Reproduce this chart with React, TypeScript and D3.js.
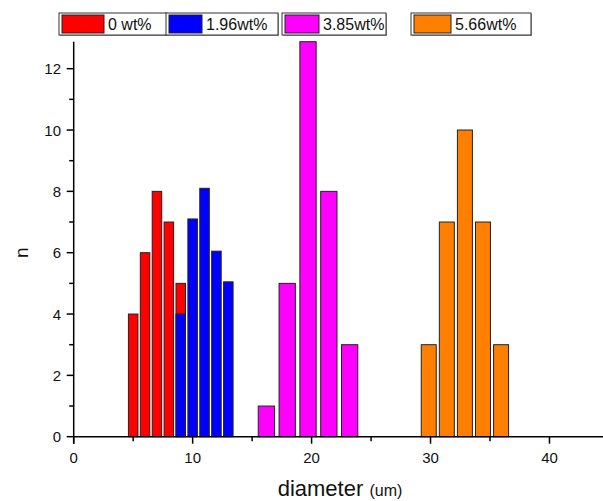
import React from "react";
import * as d3 from "d3";

// diameter bins (um) and counts for each loading
const d0 = [5, 6, 7, 8, 9];
const n0 = [4, 6, 8, 7, 5];
const d196 = [9, 10, 11, 12, 13];
const n196 = [4, 7.1, 8.1, 6.05, 5.05];
const d385 = [16.2, 17.95, 19.7, 21.45, 23.2];
const n385 = [1, 5, 13, 8, 3];
const d566 = [29.85, 31.37, 32.89, 34.41, 35.93];
const n566 = [3, 7, 10, 7, 3];

const seriesNames = ["0 wt%", "1.96wt%", "3.85wt%", "5.66wt%"];
const xTicks = [0, 10, 20, 30, 40];
const xMinor = [5, 15, 25, 35];
const yTicks = [0, 2, 4, 6, 8, 10, 12];
const yMinor = [1, 3, 5, 7, 9, 11];

const W = 603;
const H = 501;
const font = "Arial, 'Liberation Sans', sans-serif";

const series = [
  { name: seriesNames[0], xs: d0, ns: n0, color: "#ff0000", bw: 0.8 },
  { name: seriesNames[1], xs: d196, ns: n196, color: "#0000ff", bw: 0.8 },
  { name: seriesNames[2], xs: d385, ns: n385, color: "#ff00ff", bw: 1.37 },
  { name: seriesNames[3], xs: d566, ns: n566, color: "#ff8000", bw: 1.26 },
];

// legend boxes: [boxX, boxW, swatchW]
const legendLayout = [
  [59, 108, 42],
  [166, 112, 33],
  [282, 104, 34],
  [411, 120, 37],
];

export default function App() {
  const x = d3.scaleLinear().domain([0, 44.5]).range([73.7, 603]);
  const y = d3.scaleLinear().domain([0, 12.88]).range([436.7, 41.7]).clamp(true);

  return (
    <svg width={W} height={H} style={{ display: "block", position: "absolute", left: 0, top: 0, background: "#fff" }}>
      {/* bars */}
      {series.map((s, si) => (
        <g key={si}>
          {s.xs.map((xv, i) => {
            const x1 = x(xv - s.bw / 2);
            const x2 = x(xv + s.bw / 2);
            const yt = y(s.ns[i]);
            return (
              <rect
                key={i}
                x={x1}
                y={yt}
                width={x2 - x1}
                height={y(0) - yt}
                fill={s.color}
                stroke="#222"
                strokeWidth={1}
              />
            );
          })}
        </g>
      ))}

      {/* axes */}
      <g stroke="#000" strokeWidth={1.5}>
        <line x1={x(0)} x2={W} y1={y(0)} y2={y(0)} />
        <line x1={x(0)} x2={x(0)} y1={y.range()[1]} y2={y(0) + 7} />
        {xTicks.map((t) => (
          <line key={"xt" + t} x1={x(t)} x2={x(t)} y1={y(0)} y2={y(0) + 7} />
        ))}
        {xMinor.map((t) => (
          <line key={"xm" + t} x1={x(t)} x2={x(t)} y1={y(0)} y2={y(0) + 4.5} />
        ))}
        {yTicks.map((t) => (
          <line key={"yt" + t} x1={x(0) - 7} x2={x(0)} y1={y(t)} y2={y(t)} />
        ))}
        {yMinor.map((t) => (
          <line key={"ym" + t} x1={x(0) - 4.5} x2={x(0)} y1={y(t)} y2={y(t)} />
        ))}
      </g>
      <g fontFamily={font} fontSize={15} fill="#111">
        {xTicks.map((t) => (
          <text key={"xl" + t} x={x(t)} y={463} textAnchor="middle">
            {t}
          </text>
        ))}
        {yTicks.map((t) => (
          <text key={"yl" + t} x={61} y={y(t) + 5.5} textAnchor="end">
            {t}
          </text>
        ))}
      </g>
      <text
        fontFamily={font}
        fontSize={19}
        fill="#111"
        transform={`translate(28,${y(6)}) rotate(-90)`}
        textAnchor="middle"
      >
        n
      </text>
      <text x={340} y={496} fontFamily={font} fontSize={22} fill="#111" textAnchor="middle">
        diameter <tspan fontSize={16}>(um)</tspan>
      </text>

      {/* legend */}
      {series.map((s, i) => {
        const [bx, bw, sw] = legendLayout[i];
        return (
          <g key={"lg" + i}>
            <rect x={bx + 1} y={14} width={bw} height={22} fill="#999" />
            <rect x={bx} y={13} width={bw} height={22} fill="#fff" stroke="#333" strokeWidth={1} />
            <rect x={bx + 3} y={15} width={sw} height={18} fill={s.color} stroke="#222" strokeWidth={1} />
            <text x={bx + sw + 7} y={30} fontFamily={font} fontSize={16} fill="#111">
              {s.name}
            </text>
          </g>
        );
      })}
    </svg>
  );
}
